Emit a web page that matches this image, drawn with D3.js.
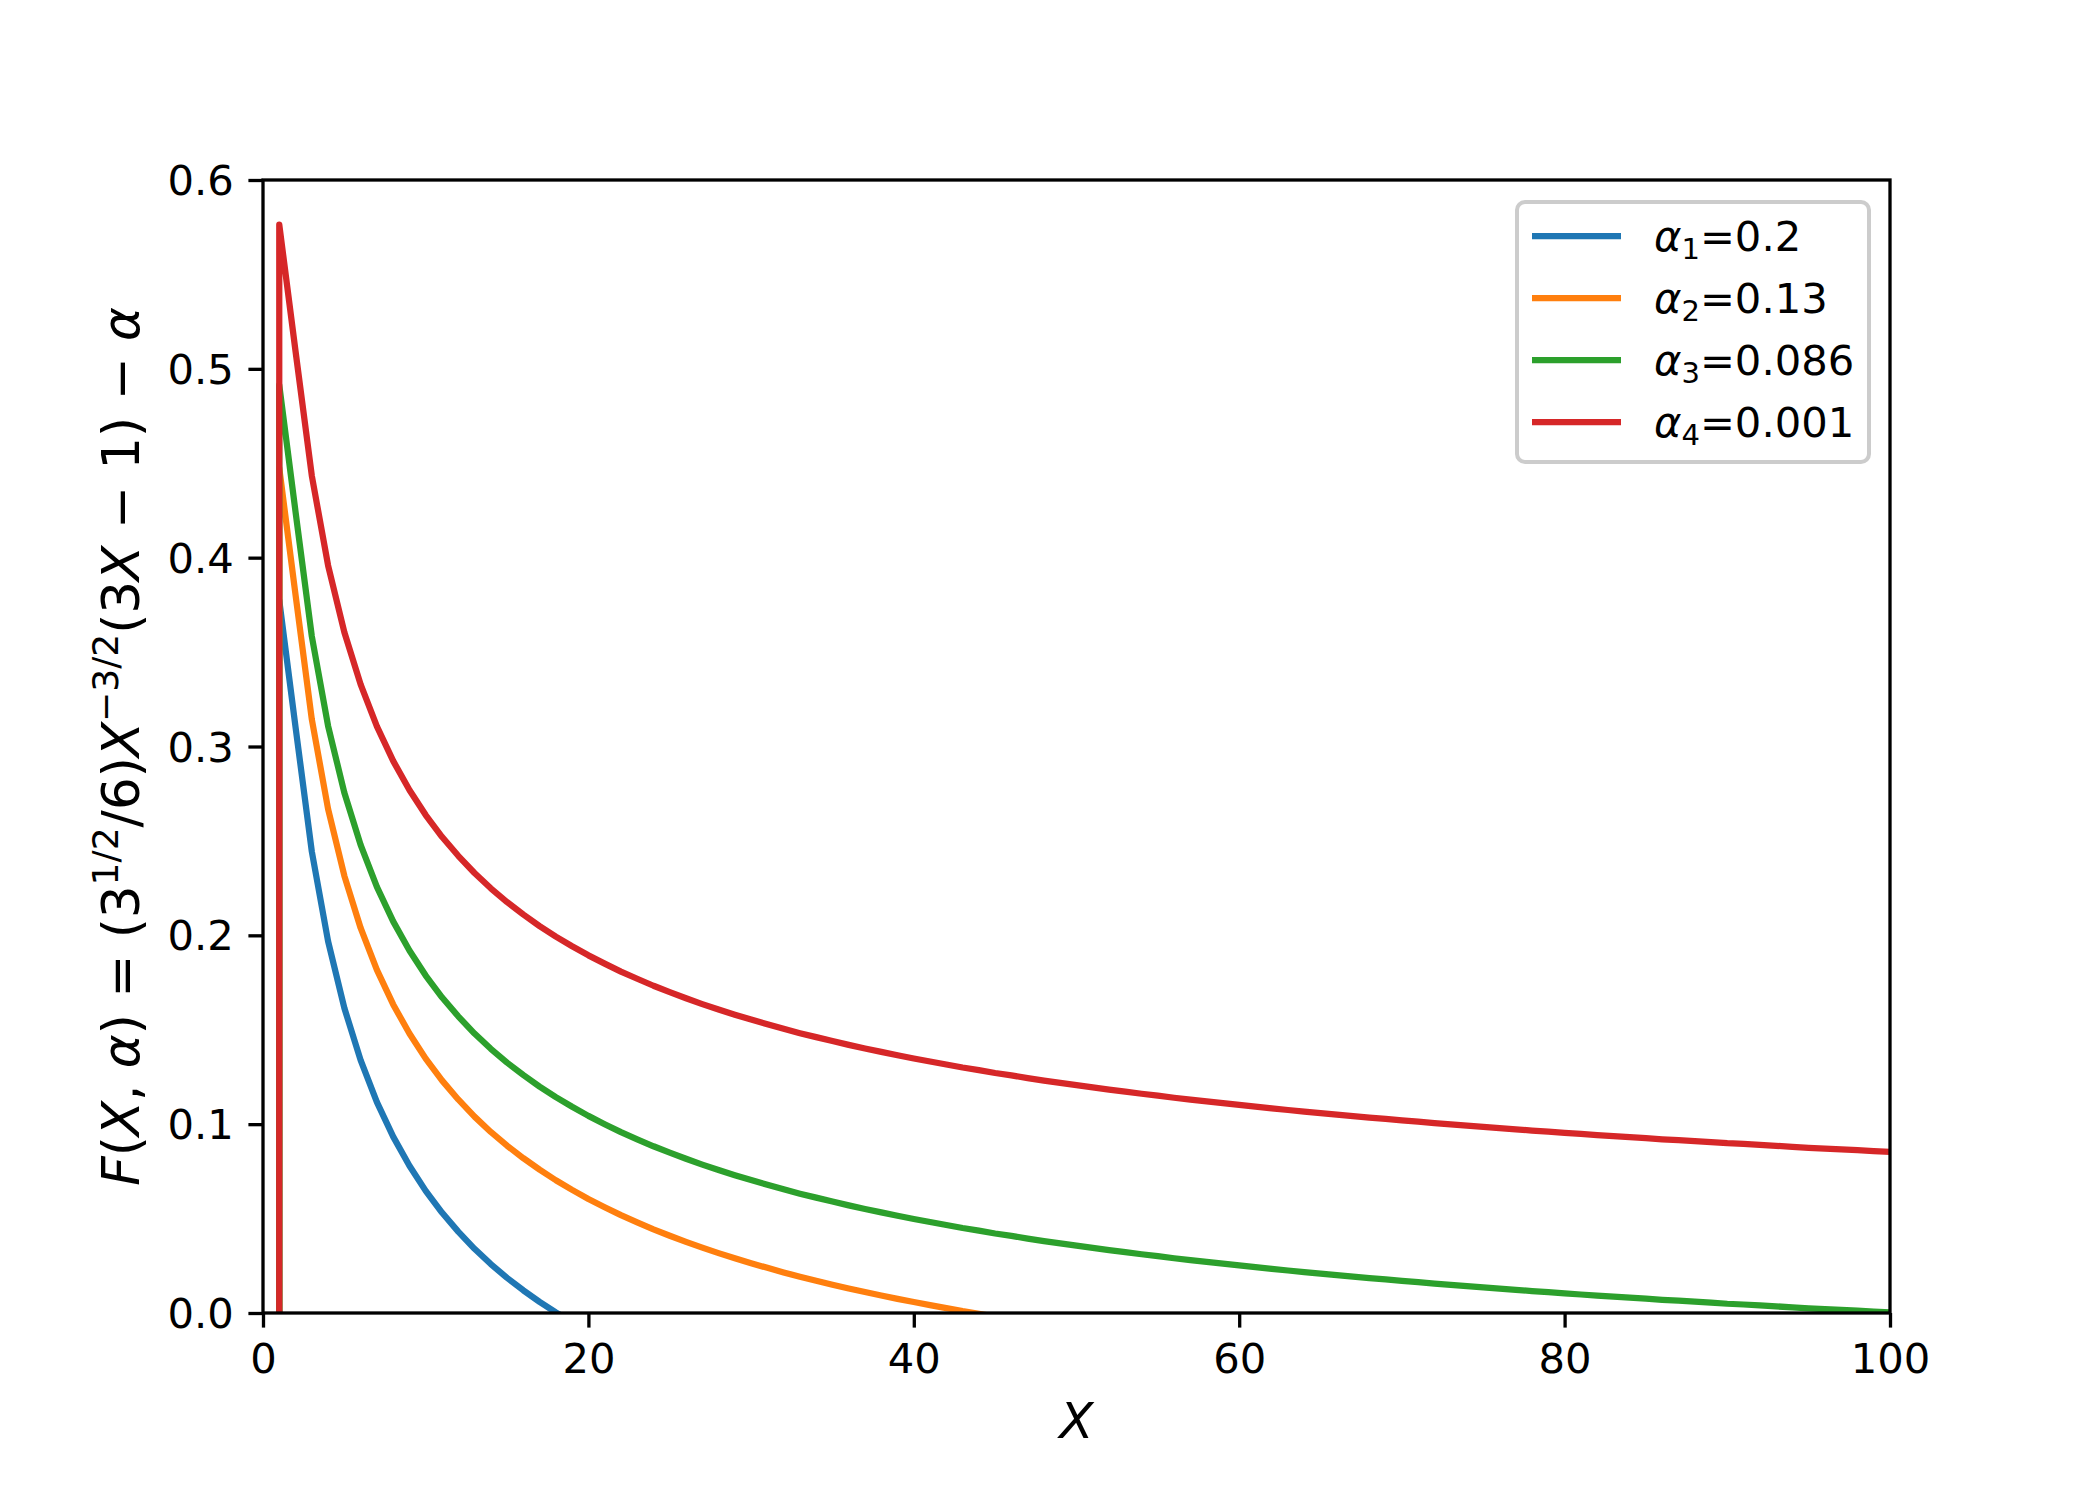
<!DOCTYPE html>
<html>
<head>
<meta charset="utf-8">
<script src="https://cdn.jsdelivr.net/npm/d3@7"></script>
<style>
  html, body { margin: 0; padding: 0; background: #ffffff; }
  svg { display: block; font-family: "DejaVu Sans", sans-serif; }
</style>
</head>
<body>
<svg id="chart" width="2100" height="1500"></svg>
<script>
// ---- data ----
const xValues = [0.01,1,2,3,4,5,6,7,8,9,10,11,12,13,14,15,16,17,18,19,20,21,22,23,24,25,26,27,28,29,30,31,32,33,34,35,36,37,38,39,40,41,42,43,44,45,46,47,48,49,50,51,52,53,54,55,56,57,58,59,60,61,62,63,64,65,66,67,68,69,70,71,72,73,74,75,76,77,78,79,80,81,82,83,84,85,86,87,88,89,90,91,92,93,94,95,96,97,98,99,100];

const seriesA1 = [-280.2,0.3774,0.3103,0.2444,0.1969,0.1615,0.1339,0.1117,0.0934,0.0780,0.0647,0.0532,0.0431,0.0340,0.0259,0.0186,0.0120,0.0059,0.0003,-0.0048,-0.0096,-0.0140,-0.0182,-0.0220,-0.0257,-0.0291,-0.0323,-0.0354,-0.0383,-0.0410,-0.0436,-0.0461,-0.0485,-0.0508,-0.0529,-0.0550,-0.0570,-0.0589,-0.0607,-0.0625,-0.0642,-0.0658,-0.0674,-0.0690,-0.0704,-0.0719,-0.0732,-0.0746,-0.0759,-0.0771,-0.0783,-0.0795,-0.0807,-0.0818,-0.0829,-0.0839,-0.0850,-0.0860,-0.0869,-0.0879,-0.0888,-0.0897,-0.0906,-0.0915,-0.0923,-0.0931,-0.0939,-0.0947,-0.0955,-0.0962,-0.0970,-0.0977,-0.0984,-0.0991,-0.0998,-0.1004,-0.1011,-0.1017,-0.1024,-0.1030,-0.1036,-0.1042,-0.1048,-0.1053,-0.1059,-0.1064,-0.1070,-0.1075,-0.1080,-0.1085,-0.1091,-0.1095,-0.1100,-0.1105,-0.1110,-0.1115,-0.1119,-0.1124,-0.1128,-0.1133,-0.1137];

const seriesA2 = [-280.1,0.4474,0.3803,0.3144,0.2669,0.2315,0.2039,0.1817,0.1634,0.1480,0.1347,0.1232,0.1131,0.1040,0.0959,0.0886,0.0820,0.0759,0.0703,0.0652,0.0604,0.0560,0.0518,0.0480,0.0443,0.0409,0.0377,0.0346,0.0317,0.0290,0.0264,0.0239,0.0215,0.0192,0.0171,0.0150,0.0130,0.0111,0.0093,0.0075,0.0058,0.0042,0.0026,0.0010,-0.0004,-0.0019,-0.0032,-0.0046,-0.0059,-0.0071,-0.0083,-0.0095,-0.0107,-0.0118,-0.0129,-0.0139,-0.0150,-0.0160,-0.0169,-0.0179,-0.0188,-0.0197,-0.0206,-0.0215,-0.0223,-0.0231,-0.0239,-0.0247,-0.0255,-0.0262,-0.0270,-0.0277,-0.0284,-0.0291,-0.0298,-0.0304,-0.0311,-0.0317,-0.0324,-0.0330,-0.0336,-0.0342,-0.0348,-0.0353,-0.0359,-0.0364,-0.0370,-0.0375,-0.0380,-0.0385,-0.0391,-0.0395,-0.0400,-0.0405,-0.0410,-0.0415,-0.0419,-0.0424,-0.0428,-0.0433,-0.0437];

const seriesA3 = [-280.1,0.4914,0.4243,0.3584,0.3109,0.2755,0.2479,0.2257,0.2074,0.1920,0.1787,0.1672,0.1571,0.1480,0.1399,0.1326,0.1260,0.1199,0.1143,0.1092,0.1044,0.1000,0.0958,0.0920,0.0883,0.0849,0.0817,0.0786,0.0757,0.0730,0.0704,0.0679,0.0655,0.0632,0.0611,0.0590,0.0570,0.0551,0.0533,0.0515,0.0498,0.0482,0.0466,0.0450,0.0436,0.0421,0.0408,0.0394,0.0381,0.0369,0.0357,0.0345,0.0333,0.0322,0.0311,0.0301,0.0290,0.0280,0.0271,0.0261,0.0252,0.0243,0.0234,0.0225,0.0217,0.0209,0.0201,0.0193,0.0185,0.0178,0.0170,0.0163,0.0156,0.0149,0.0142,0.0136,0.0129,0.0123,0.0116,0.0110,0.0104,0.0098,0.0092,0.0087,0.0081,0.0076,0.0070,0.0065,0.0060,0.0055,0.0049,0.0045,0.0040,0.0035,0.0030,0.0025,0.0021,0.0016,0.0012,0.0007,0.0003];

const seriesA4 = [-280.0,0.5764,0.5093,0.4434,0.3959,0.3605,0.3329,0.3107,0.2924,0.2770,0.2637,0.2522,0.2421,0.2330,0.2249,0.2176,0.2110,0.2049,0.1993,0.1942,0.1894,0.1850,0.1808,0.1770,0.1733,0.1699,0.1667,0.1636,0.1607,0.1580,0.1554,0.1529,0.1505,0.1482,0.1461,0.1440,0.1420,0.1401,0.1383,0.1365,0.1348,0.1332,0.1316,0.1300,0.1286,0.1271,0.1258,0.1244,0.1231,0.1219,0.1207,0.1195,0.1183,0.1172,0.1161,0.1151,0.1140,0.1130,0.1121,0.1111,0.1102,0.1093,0.1084,0.1075,0.1067,0.1059,0.1051,0.1043,0.1035,0.1028,0.1020,0.1013,0.1006,0.0999,0.0992,0.0986,0.0979,0.0973,0.0966,0.0960,0.0954,0.0948,0.0942,0.0937,0.0931,0.0926,0.0920,0.0915,0.0910,0.0905,0.0899,0.0895,0.0890,0.0885,0.0880,0.0875,0.0871,0.0866,0.0862,0.0857,0.0853];

const seriesSubscripts = ["1", "2", "3", "4"];
const seriesAlphaLabels = ["0.2", "0.13", "0.086", "0.001"];
const seriesColors = ["#1f77b4", "#ff7f0e", "#2ca02c", "#d62728"];
const xTicks = [0, 20, 40, 60, 80, 100];
const yTicks = [0.0, 0.1, 0.2, 0.3, 0.4, 0.5, 0.6];

const allSeries = [seriesA1, seriesA2, seriesA3, seriesA4];

// ---- layout ----
const L = 263, R = 1890, T = 180, B = 1313;
const svg = d3.select("#chart");
const x = d3.scaleLinear().domain([0, 100]).range([L, R]);
const y = d3.scaleLinear().domain([0, 0.6]).range([B, T]);

svg.append("defs").append("clipPath").attr("id", "plotclip")
  .append("rect").attr("x", L).attr("y", T).attr("width", R - L).attr("height", B - T);

// lines
const line = d3.line().x(d => x(d[0])).y(d => y(d[1]));
const plot = svg.append("g").attr("clip-path", "url(#plotclip)");
allSeries.forEach((s, i) => {
  const pts = xValues.map((xv, j) => [xv, s[j]]);
  plot.append("path")
    .attr("d", line(pts))
    .attr("fill", "none")
    .attr("stroke", seriesColors[i])
    .attr("stroke-width", 6.25)
    .attr("stroke-linejoin", "round")
    .attr("stroke-linecap", "square");
});

// axes
const tickLen = 14.6, tickPad = 14.6, fs = 41.7;
const xAxis = d3.axisBottom(x).tickValues(xTicks).tickFormat(d3.format("d")).tickSize(tickLen).tickPadding(tickPad);
const yAxis = d3.axisLeft(y).tickValues(yTicks).tickFormat(d3.format(".1f")).tickSize(tickLen).tickPadding(tickPad);

const gx = svg.append("g").attr("transform", `translate(0,${B})`).call(xAxis);
const gy = svg.append("g").attr("transform", `translate(${L},0)`).call(yAxis);
[gx, gy].forEach(g => {
  g.select(".domain").remove();
  g.selectAll(".tick line").attr("stroke", "#000").attr("stroke-width", 3.3);
  g.selectAll(".tick text").attr("fill", "#000").style("font-size", fs + "px").style("font-family", "DejaVu Sans");
});
gx.selectAll(".tick text").attr("dy", null).attr("dominant-baseline", "hanging");
gy.selectAll(".tick text").attr("dy", null).attr("dominant-baseline", "central");

// spines
svg.append("rect").attr("x", L).attr("y", T).attr("width", R - L).attr("height", B - T)
  .attr("fill", "none").attr("stroke", "#000").attr("stroke-width", 3.3).attr("stroke-linejoin", "miter");

// x label
svg.append("text").attr("x", (L + R) / 2).attr("y", 1438).attr("text-anchor", "middle")
  .style("font-size", "50px").style("font-style", "italic").text("X");

// y label
const yl = svg.append("text").attr("transform", `translate(139,${(T + B) / 2}) rotate(-90)`)
  .attr("text-anchor", "middle").style("font-size", "51.5px");
const supShift = 21, supSize = "36px";
yl.append("tspan").style("font-style", "italic").text("F");
yl.append("tspan").text("(");
yl.append("tspan").style("font-style", "italic").text("X");
yl.append("tspan").text(", ");
yl.append("tspan").style("font-style", "italic").text("α");
yl.append("tspan").text(") = (3");
yl.append("tspan").attr("dy", -supShift).style("font-size", supSize).text("1/2");
yl.append("tspan").attr("dy", supShift).text("/6)");
yl.append("tspan").style("font-style", "italic").text("X");
yl.append("tspan").attr("dy", -supShift).style("font-size", supSize).text("−3/2");
yl.append("tspan").attr("dy", supShift).text("(3");
yl.append("tspan").style("font-style", "italic").text("X");
yl.append("tspan").text(" − 1) − ");
yl.append("tspan").style("font-style", "italic").text("α");

// legend
const lg = svg.append("g");
lg.append("rect").attr("x", 1517).attr("y", 202).attr("width", 352).attr("height", 260)
  .attr("rx", 8).attr("ry", 8)
  .attr("fill", "#ffffff").attr("fill-opacity", 0.8)
  .attr("stroke", "#cccccc").attr("stroke-width", 4);
seriesColors.forEach((c, i) => {
  const cy = 236 + i * 62;
  lg.append("line").attr("x1", 1532).attr("x2", 1621).attr("y1", cy).attr("y2", cy)
    .attr("stroke", c).attr("stroke-width", 6.25).attr("stroke-linecap", "butt");
  const t = lg.append("text").attr("x", 1654).attr("y", cy + 15).style("font-size", fs + "px");
  t.append("tspan").style("font-style", "italic").text("α");
  t.append("tspan").attr("dy", 8).style("font-size", "29px").text(seriesSubscripts[i]);
  t.append("tspan").attr("dy", -8).text("=" + seriesAlphaLabels[i]);
});
</script>
</body>
</html>
